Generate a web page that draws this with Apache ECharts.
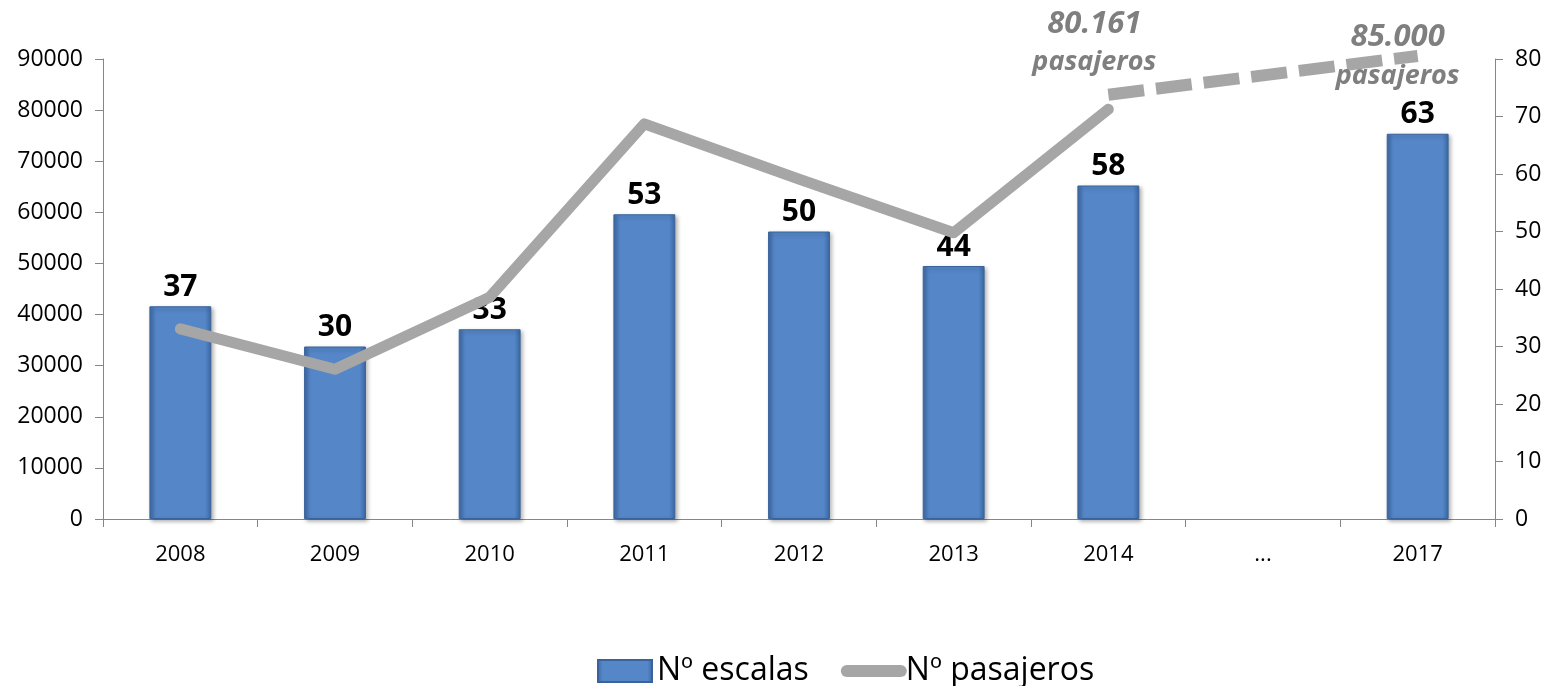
<!DOCTYPE html>
<html>
<head>
<meta charset="utf-8">
<script src="https://cdn.jsdelivr.net/npm/echarts@6/dist/echarts.min.js"></script>
<style>
html,body{margin:0;padding:0;background:#fff;}
#chart{width:1550px;height:686px;}
</style>
</head>
<body>
<div id="chart"></div>
<script>
var anios = ['2008','2009','2010','2011','2012','2013','2014','...','2017'];
// altura de las barras tal como se dibujan (la de 2017 sube más que su rótulo)
var escalas = [37, 30, 33, 53, 50, 44, 58, null, 67];
var escalasRotulo = ['37', '30', '33', '53', '50', '44', '58', '', '63'];
var pasajeros = [37200, 29300, 43400, 77300, 66500, 56000, 80161, null, null];
// tramo discontinuo (previsión) tal como se ve en el gráfico
var prevision = [null, null, null, null, null, null, 83000, null, 90600];
var notas = [80161, 85000];
var ejeIzq = [0, 90000, 10000];
var ejeDer = [0, 80, 10];

var fuente = '"Open Sans", sans-serif';
var gris = '#a6a6a6';
var ejeColor = '#868686';

var chart = echarts.init(document.getElementById('chart'));

var axisLine = {show: true, lineStyle: {color: ejeColor, width: 1}};
var axisTick = {show: true, length: 8, lineStyle: {color: ejeColor}};
var axisLabelY = {color: '#000', fontSize: 23, fontFamily: fuente, margin: 20,
    formatter: function (v) { return String(v); }};

var fmtMiles = function (v) {
    return String(v).replace(/\B(?=(\d{3})+(?!\d))/g, '.');
};

// etiquetas de la previsión: una sobre 2014 y otra sobre 2017
var notaIdx = [6, 8];
var notaOffset = [[-14, -52], [-20, 0]];
var previsionData = prevision.map(function (v, i) {
    var k = notaIdx.indexOf(i);
    if (v == null || k < 0) return v;
    return {
        value: v,
        label: {
            show: true,
            position: 'inside',
            offset: notaOffset[k],
            formatter: '{n|' + fmtMiles(notas[k]) + '}\n{p|pasajeros}',
            rich: {
                n: {fontSize: 31, fontWeight: 'bold', fontStyle: 'italic', color: '#7f7f7f', fontFamily: fuente, lineHeight: 40},
                p: {fontSize: 27, fontWeight: 'bold', fontStyle: 'italic', color: '#7f7f7f', fontFamily: fuente, lineHeight: 38}
            }
        }
    };
});

var barColor = new echarts.graphic.LinearGradient(0, 0, 1, 0, [
    {offset: 0, color: '#3c68a4'},
    {offset: 0.1, color: '#5586c8'},
    {offset: 0.9, color: '#5586c8'},
    {offset: 1, color: '#3c68a4'}
]);

option = {
    backgroundColor: '#fff',
    animation: false,
    grid: {left: 103, right: 55, top: 59, bottom: 167},
    legend: {
        data: [
            {name: 'Nº escalas', icon: 'rect'},
            {name: 'Nº pasajeros', lineStyle: {width: 12, cap: 'round', color: gris},
                itemStyle: {color: 'rgba(0,0,0,0)', opacity: 0}}
        ],
        left: 592,
        bottom: -6,
        itemWidth: 54,
        itemHeight: 22,
        itemGap: 32,
        textStyle: {color: '#000', fontSize: 32, fontFamily: fuente}
    },
    xAxis: {
        type: 'category',
        data: anios,
        axisLine: axisLine,
        axisTick: axisTick,
        axisLabel: {color: '#000', fontSize: 22, fontFamily: fuente, margin: 25}
    },
    yAxis: [
        {
            type: 'value',
            min: ejeIzq[0], max: ejeIzq[1], interval: ejeIzq[2],
            position: 'left',
            axisLine: axisLine,
            axisTick: axisTick,
            axisLabel: axisLabelY,
            splitLine: {show: false}
        },
        {
            type: 'value',
            min: ejeDer[0], max: ejeDer[1], interval: ejeDer[2],
            position: 'right',
            axisLine: axisLine,
            axisTick: axisTick,
            axisLabel: axisLabelY,
            splitLine: {show: false}
        }
    ],
    series: [
        {
            name: 'Nº escalas',
            type: 'bar',
            yAxisIndex: 1,
            barWidth: '40%',
            data: escalas,
            itemStyle: {
                color: barColor,
                borderColor: '#3a639b',
                borderWidth: 1,
                shadowColor: 'rgba(0,0,0,0.3)',
                shadowBlur: 4,
                shadowOffsetX: 2,
                shadowOffsetY: 2
            },
            label: {
                show: true,
                position: 'top',
                distance: 4,
                color: '#000',
                fontSize: 30,
                fontWeight: 'bold',
                fontFamily: fuente,
                formatter: function (p) { return escalasRotulo[p.dataIndex]; }
            }
        },
        {
            name: 'Nº pasajeros',
            type: 'line',
            yAxisIndex: 0,
            data: pasajeros,
            symbol: 'none',
            lineStyle: {color: gris, width: 11, cap: 'round', join: 'round'},
            itemStyle: {color: gris}
        },
        {
            name: 'prevision',
            type: 'line',
            yAxisIndex: 0,
            data: previsionData,
            connectNulls: true,
            clip: false,
            symbol: 'circle',
            symbolSize: 1,
            itemStyle: {color: 'rgba(0,0,0,0)'},
            lineStyle: {color: gris, width: 12, type: [36, 12], cap: 'butt'}
        }
    ]
};
chart.setOption(option);
</script>
</body>
</html>
